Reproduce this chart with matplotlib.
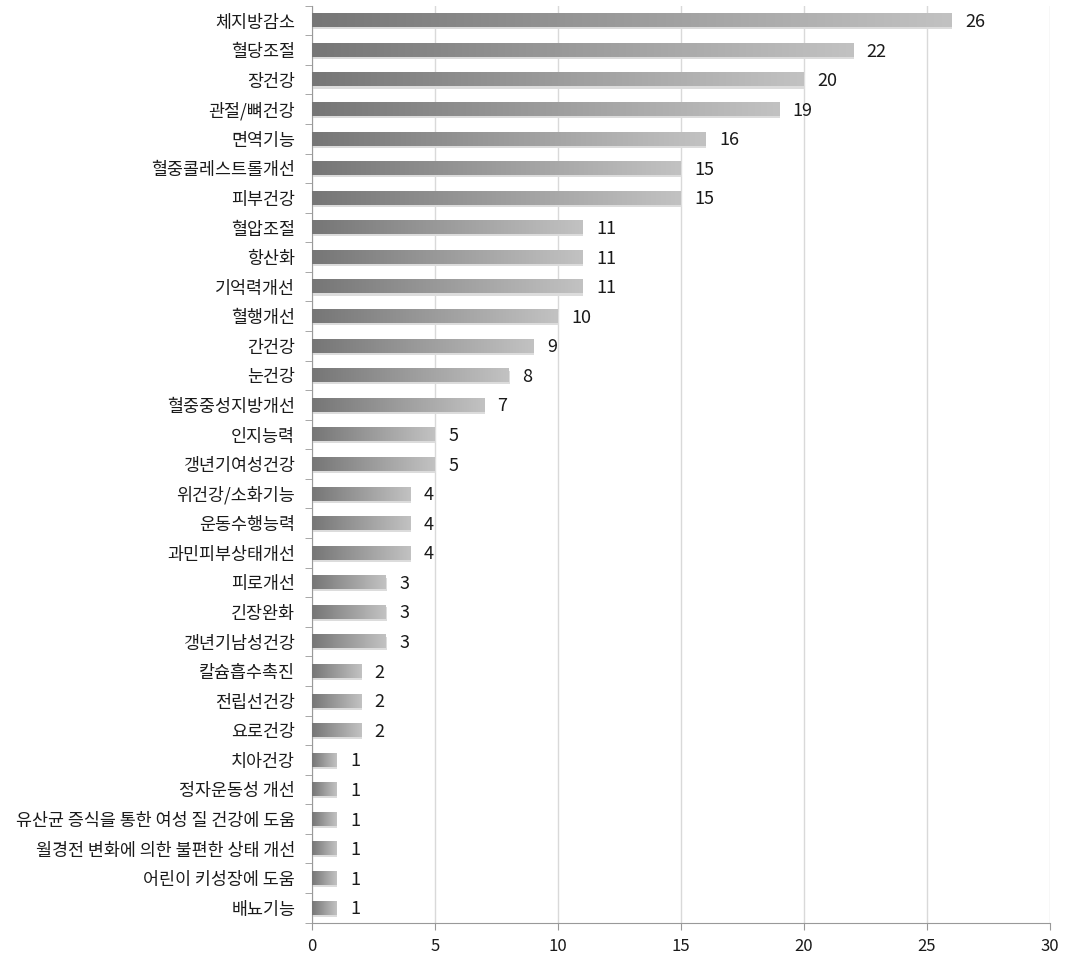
import numpy as np
import matplotlib.pyplot as plt
from matplotlib.colors import LinearSegmentedColormap
from matplotlib.patches import Rectangle

plt.rcParams['font.family'] = ['Noto Sans CJK KR', 'DejaVu Sans']

categories = ['체지방감소', '혈당조절', '장건강', '관절/뼈건강', '면역기능', '혈중콜레스트롤개선',
              '피부건강', '혈압조절', '항산화', '기억력개선', '혈행개선', '간건강', '눈건강',
              '혈중중성지방개선', '인지능력', '갱년기여성건강', '위건강/소화기능', '운동수행능력',
              '과민피부상태개선', '피로개선', '긴장완화', '갱년기남성건강', '칼슘흡수촉진',
              '전립선건강', '요로건강', '치아건강', '정자운동성 개선',
              '유산균 증식을 통한 여성 질 건강에 도움', '월경전 변화에 의한 불편한 상태 개선',
              '어린이 키성장에 도움', '배뇨기능']
values = [26, 22, 20, 19, 16, 15, 15, 11, 11, 11, 10, 9, 8, 7, 5, 5, 4, 4, 4, 3, 3, 3,
          2, 2, 2, 1, 1, 1, 1, 1, 1]

fig = plt.figure(figsize=(10.68, 9.56), dpi=100)
ax = fig.add_axes([0.292, 0.035, 0.691, 0.959])

n = len(categories)
ypos = np.arange(n)[::-1]
h = 0.46
cmap = LinearSegmentedColormap.from_list('g', ['#767676', '#c2c2c2'])
grad = np.linspace(0, 1, 256).reshape(1, -1)

for y, v in zip(ypos, values):
    # soft shadow
    ax.add_patch(Rectangle((0.04, y - h / 2 - 0.07), v, h, color='#dcdcdc', lw=0, zorder=2))
    ax.imshow(grad, cmap=cmap, aspect='auto', extent=(0, v, y - h / 2, y + h / 2),
              zorder=3, interpolation='bicubic')
    ax.text(v + 0.55, y - 0.05, str(v), va='center', ha='left', fontsize=13,
            fontweight='medium', color='#1a1a1a')

ax.set_xlim(0, 30)
ax.set_ylim(-0.5, n - 0.5)
ax.set_xticks(range(0, 31, 5))
ax.set_yticks(ypos)
ax.set_yticklabels(categories, fontsize=12.5, fontweight='medium', color='#1a1a1a')
ax.set_yticks(np.arange(-0.5, n, 1), minor=True)
ax.tick_params(axis='y', which='major', length=0, pad=12)
ax.tick_params(axis='y', which='minor', length=5, color='#999999', direction='out')
ax.tick_params(axis='x', length=5, color='#999999', labelsize=12, labelcolor='#1a1a1a', pad=6)
for t in ax.get_xticklabels():
    t.set_fontweight('medium')
ax.grid(axis='x', color='#d9d9d9', lw=1, zorder=0)
ax.set_axisbelow(True)
for s in ['top', 'right']:
    ax.spines[s].set_visible(False)
for s in ['left', 'bottom']:
    ax.spines[s].set_color('#999999')

fig.savefig('out.png', dpi=100)
